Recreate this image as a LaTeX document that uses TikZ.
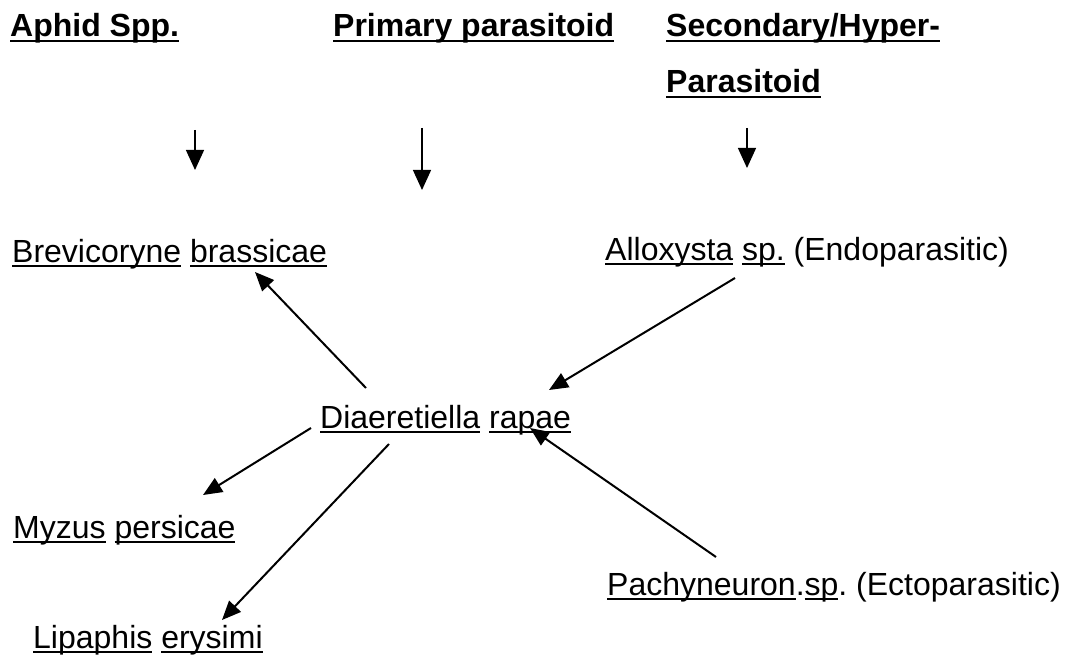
\documentclass[tikz,border=0pt]{standalone}
\usepackage{fontspec}
\setmainfont{Liberation Sans}
\usetikzlibrary{arrows.meta}
\frenchspacing
\newcommand\ulx[1]{\setbox0\hbox{#1}\rlap{\rule[-5pt]{\wd0}{2.2pt}}\box0\relax}
\tikzset{
  lbl/.style={anchor=base west, inner sep=0pt, font=\fontsize{32}{38}\selectfont},
  head/.style={lbl, font=\fontsize{32}{38}\selectfont\bfseries},
  varr/.style={line width=1.3pt, -{Triangle[length=20pt,width=18pt]}},
  darr/.style={line width=2pt, -{Triangle[length=19pt,width=16pt]}}
}
\begin{document}
\begin{tikzpicture}[x=1pt,y=-1pt]
\useasboundingbox (0,0) rectangle (1068,663);
\node[head] (aphid) at (10,37) {\ulx{Aphid Spp.}};
\node[head] (prim) at (333,37) {\ulx{Primary parasitoid}};
\node[head] (sec) at (666,37) {\ulx{Secondary/Hyper-}};
\node[head] (sec2) at (666,93) {\ulx{Parasitoid}};
\coordinate (a1s) at (195,130); \coordinate (a1e) at (195,170);
\coordinate (a2s) at (422,128); \coordinate (a2e) at (422,190);
\coordinate (a3s) at (747,128); \coordinate (a3e) at (747,168);
\draw[varr] (a1s) -- (a1e);
\draw[varr] (a2s) -- (a2e);
\draw[varr] (a3s) -- (a3e);
\node[lbl] (brev) at (12,262) {\ulx{Brevicoryne} \ulx{brassicae}};
\node[lbl] (allo) at (605,260) {\ulx{Alloxysta} \ulx{sp.} (Endoparasitic)};
\node[lbl] (diae) at (320,428) {\ulx{Diaeretiella} \ulx{rapae}};
\node[lbl] (myz) at (13,538) {\ulx{Myzus} \ulx{persicae}};
\node[lbl] (lip) at (33,648) {\ulx{Lipaphis} \ulx{erysimi}};
\node[lbl] (pach) at (607,595) {\ulx{Pachyneuron}.\ulx{sp}. (Ectoparasitic)};
\coordinate (d1) at (366,388); \coordinate (b1) at (255,272);
\coordinate (al1) at (735,278); \coordinate (d2) at (549,390);
\coordinate (d3) at (311,428); \coordinate (m1) at (203,495);
\coordinate (d4) at (389,444); \coordinate (l1) at (222,620);
\coordinate (p1) at (716,557); \coordinate (d5) at (530,428);
\draw[darr] (d1) -- (b1);
\draw[darr] (al1) -- (d2);
\draw[darr] (d3) -- (m1);
\draw[darr] (d4) -- (l1);
\draw[darr] (p1) -- (d5);
\end{tikzpicture}
\end{document}
